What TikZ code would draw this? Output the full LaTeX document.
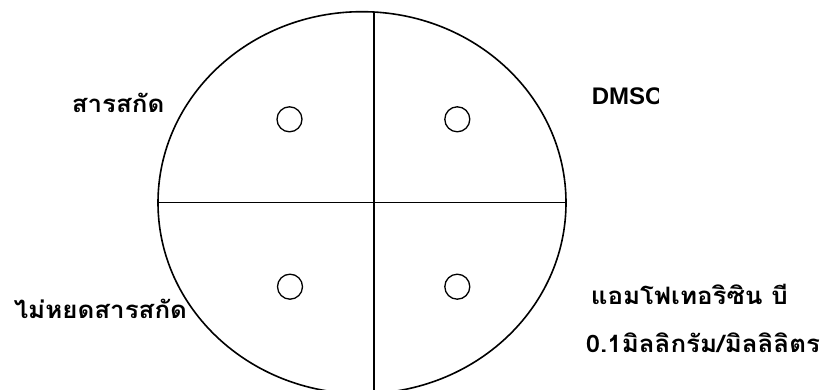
\documentclass[tikz,border=0pt]{standalone}
\usepackage{fontspec}
\setmainfont{Liberation Sans}
\newfontfamily\thaifont[Script=Thai, FakeStretch=1.08]{Loma}
\usetikzlibrary{shapes.geometric,positioning}

\begin{document}
\begin{tikzpicture}[
  x=1pt, y=-1pt,
  line width=1.6pt,
  dish/.style={draw, ellipse, inner sep=0pt, minimum width=408pt, minimum height=382pt},
  well/.style={draw, circle, inner sep=0pt, minimum size=25pt, line width=1.3pt},
  label/.style={anchor=base west, inner sep=0pt, font=\thaifont\bfseries\fontsize{24}{28}\selectfont}
]
\useasboundingbox (0,0) rectangle (825,390);
\clip (0,0) rectangle (825,390);

\node[dish] (dish) at (362,202.7) {};

\coordinate (top) at (374,12);
\coordinate (bot) at (374,400);
\draw (top) -- (bot);
\draw (dish.west) -- (dish.east);

% the four wells
\node[well] (w1) at (289.5,119.3) {};
\node[well] (w2) at (457.3,119.3) {};
\node[well] (w3) at (290,286.7) {};
\node[well] (w4) at (457.3,286.7) {};

\node[label] (ext) at (71,113) {สารสกัด};
\node[label] (none) at (13,318) {ไม่หยดสารสกัด};
\node[label] (amp) at (590,305) {แอมโฟเทอริซิน บี};
\node[label] (conc) at (585,352) {0.1มิลลิกรัม/มิลลิลิตร};

% DMSO label is cut off on its right
\begin{scope}
  \clip (0,0) rectangle (658,390);
  \node[label, font=\bfseries\fontsize{24}{28}\selectfont] (dmso) at (591,105) {DMSO};
\end{scope}

\end{tikzpicture}
\end{document}
